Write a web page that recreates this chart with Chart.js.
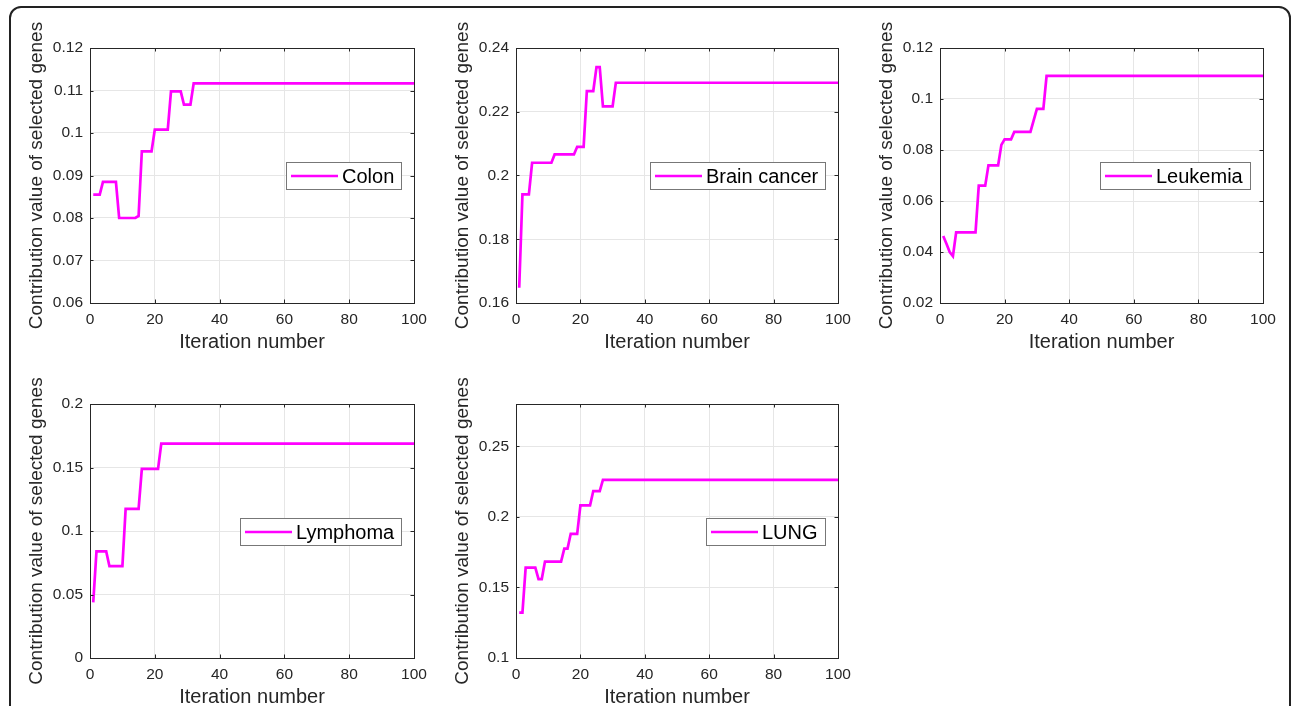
<!DOCTYPE html>
<html>
<head>
<meta charset="utf-8">
<script src="https://cdn.jsdelivr.net/npm/chart.js@4.4.1/dist/chart.umd.min.js"></script>
<style>
    html, body { margin: 0; padding: 0; background: #fff; width: 1295px; height: 706px; overflow: hidden; }
    #frame { position: absolute; left: 9px; top: 6px; width: 1282px; height: 780px; border: 2px solid #222; border-radius: 12px; box-sizing: border-box; }
    canvas { position: absolute; }
</style>
</head>
<body>
<div id="frame"></div>
<canvas id="chart-colon" width="424" height="350" style="left:10px;top:8px"></canvas>
<canvas id="chart-brain" width="422" height="350" style="left:436px;top:8px"></canvas>
<canvas id="chart-leukemia" width="423" height="350" style="left:860px;top:8px"></canvas>
<canvas id="chart-lymphoma" width="424" height="349" style="left:10px;top:364px"></canvas>
<canvas id="chart-lung" width="422" height="349" style="left:436px;top:364px"></canvas>
<script>
const xTicks = [0, 20, 40, 60, 80, 100]

// Colon
const colonIter = [1, 3, 4, 8, 9, 14, 15, 16, 19, 20, 24, 25, 28, 29, 31, 32, 100]
const colonValue = [0.0855, 0.0855, 0.0885, 0.0885, 0.080, 0.080, 0.0805, 0.0957, 0.0957, 0.1008, 0.1008, 0.1098, 0.1098, 0.1067, 0.1067, 0.1117, 0.1117]
const colonTicks = [0.06, 0.07, 0.08, 0.09, 0.1, 0.11, 0.12]
const colonRange = [0.06, 0.12]

// Brain cancer
const brainIter = [1, 2, 4, 5, 11, 12, 18, 19, 21, 22, 24, 25, 26, 27, 30, 31, 100]
const brainValue = [0.1648, 0.1941, 0.1941, 0.204, 0.204, 0.2066, 0.2066, 0.209, 0.209, 0.2265, 0.2265, 0.234, 0.234, 0.2217, 0.2217, 0.2291, 0.2291]
const brainTicks = [0.16, 0.18, 0.2, 0.22, 0.24]
const brainRange = [0.16, 0.24]

// Leukemia
const leukemiaIter = [1, 2, 3, 4, 5, 11, 12, 14, 15, 18, 19, 20, 22, 23, 28, 30, 32, 33, 100]
const leukemiaValue = [0.0463, 0.0432, 0.0400, 0.0384, 0.0477, 0.0477, 0.066, 0.066, 0.074, 0.074, 0.082, 0.0842, 0.0842, 0.0871, 0.0871, 0.0961, 0.0961, 0.1091, 0.1091]
const leukemiaTicks = [0.02, 0.04, 0.06, 0.08, 0.1, 0.12]
const leukemiaRange = [0.02, 0.12]

// Lymphoma
const lymphomaIter = [1, 2, 5, 6, 10, 11, 15, 16, 21, 22, 100]
const lymphomaValue = [0.0438, 0.0839, 0.0839, 0.0723, 0.0723, 0.1174, 0.1174, 0.1489, 0.1489, 0.1688, 0.1688]
const lymphomaTicks = [0, 0.05, 0.1, 0.15, 0.2]
const lymphomaRange = [0, 0.2]

// LUNG
const lungIter = [1, 2, 3, 6, 7, 8, 9, 14, 15, 16, 17, 19, 20, 23, 24, 26, 27, 100]
const lungValue = [0.1322, 0.1322, 0.1641, 0.1641, 0.1559, 0.1559, 0.1683, 0.1683, 0.1775, 0.1775, 0.188, 0.188, 0.2082, 0.2082, 0.2183, 0.2183, 0.2263, 0.2263]
const lungTicks = [0.1, 0.15, 0.2, 0.25]
const lungRange = [0.1, 0.28]

const panels = [
    { id: "chart-colon", label: "Colon", iter: colonIter, value: colonValue, ticks: colonTicks, range: colonRange },
    { id: "chart-brain", label: "Brain cancer", iter: brainIter, value: brainValue, ticks: brainTicks, range: brainRange },
    { id: "chart-leukemia", label: "Leukemia", iter: leukemiaIter, value: leukemiaValue, ticks: leukemiaTicks, range: leukemiaRange },
    { id: "chart-lymphoma", label: "Lymphoma", iter: lymphomaIter, value: lymphomaValue, ticks: lymphomaTicks, range: lymphomaRange },
    { id: "chart-lung", label: "LUNG", iter: lungIter, value: lungValue, ticks: lungTicks, range: lungRange }
]

const FONT = "'Liberation Sans', Arial, sans-serif"
const LINE_COLOR = "#ff00ff"
const AXIS_COLOR = "#262626"
const Y_TITLE = "Contribution value of selected genes"

// matlab style: full box, inward ticks, y title, legend box at "east"
const matlabBox = {
    id: "matlabBox",
    afterDraw(chart, args, opts) {
        const { ctx, chartArea: ca, scales } = chart
        ctx.save()
        ctx.strokeStyle = AXIS_COLOR
        ctx.lineWidth = 1
        ctx.strokeRect(Math.round(ca.left) + 0.5, Math.round(ca.top) + 0.5, Math.round(ca.right - ca.left), Math.round(ca.bottom - ca.top))

        const len = 3.5
        ctx.beginPath()
        scales.x.ticks.forEach((t) => {
            const px = Math.round(scales.x.getPixelForValue(t.value)) + 0.5
            ctx.moveTo(px, ca.bottom); ctx.lineTo(px, ca.bottom - len)
            ctx.moveTo(px, ca.top); ctx.lineTo(px, ca.top + len)
        })
        scales.y.ticks.forEach((t) => {
            const py = Math.round(scales.y.getPixelForValue(t.value)) + 0.5
            ctx.moveTo(ca.left, py); ctx.lineTo(ca.left + len, py)
            ctx.moveTo(ca.right, py); ctx.lineTo(ca.right - len, py)
        })
        ctx.stroke()

        // y title (drawn here so it is not squeezed to the axis height)
        ctx.save()
        ctx.translate(27, (ca.top + ca.bottom) / 2)
        ctx.rotate(-Math.PI / 2)
        ctx.font = "19px " + FONT
        ctx.fillStyle = AXIS_COLOR
        ctx.textAlign = "center"
        ctx.textBaseline = "middle"
        ctx.fillText(Y_TITLE, 0, 0)
        ctx.restore()

        // legend
        ctx.font = "20px " + FONT
        const tw = ctx.measureText(opts.label).width
        const w = 5 + 47 + 4 + tw + 7
        const h = 27
        const right = Math.round(ca.right - 13)
        const left = Math.round(right - w)
        const top = Math.round((ca.top + ca.bottom) / 2 - h / 2)
        ctx.fillStyle = "#fff"
        ctx.fillRect(left, top, right - left, h)
        ctx.strokeStyle = "#777"
        ctx.strokeRect(left + 0.5, top + 0.5, right - left, h)
        const cy = top + h / 2 + 0.5
        ctx.strokeStyle = LINE_COLOR
        ctx.lineWidth = 2.5
        ctx.beginPath()
        ctx.moveTo(left + 5, cy); ctx.lineTo(left + 52, cy)
        ctx.stroke()
        ctx.fillStyle = "#000"
        ctx.textBaseline = "middle"
        ctx.textAlign = "left"
        ctx.fillText(opts.label, left + 56, cy + 1)
        ctx.restore()
    }
}

const makeChart = (panel) => {
    new Chart(document.getElementById(panel.id), {
        type: "line",
        data: {
            datasets: [{
                label: panel.label,
                data: panel.iter.map((it, i) => ({ x: it, y: panel.value[i] })),
                borderColor: LINE_COLOR,
                borderWidth: 2.7,
                pointRadius: 0,
                tension: 0,
                fill: false
            }]
        },
        options: {
            responsive: false,
            animation: false,
            layout: { padding: { top: 40, right: 20, left: 0, bottom: 0 } },
            plugins: {
                legend: { display: false },
                tooltip: { enabled: false },
                matlabBox: { label: panel.label }
            },
            scales: {
                x: {
                    type: "linear",
                    min: 0,
                    max: 100,
                    afterBuildTicks: (scale) => { scale.ticks = xTicks.map((v) => ({ value: v })) },
                    afterFit: (scale) => { scale.height = 55 },
                    grid: { color: "#e6e6e6", drawTicks: false },
                    border: { display: false },
                    ticks: { color: AXIS_COLOR, padding: 7, maxRotation: 0, font: { family: FONT, size: 15.5 } },
                    title: {
                        display: true,
                        text: "Iteration number",
                        color: AXIS_COLOR,
                        padding: { top: 0, bottom: 4 },
                        font: { family: FONT, size: 20 }
                    }
                },
                y: {
                    type: "linear",
                    min: panel.range[0],
                    max: panel.range[1],
                    afterBuildTicks: (scale) => { scale.ticks = panel.ticks.map((v) => ({ value: v })) },
                    afterFit: (scale) => { scale.width = 80 },
                    grid: { color: "#e6e6e6", drawTicks: false },
                    border: { display: false },
                    ticks: { color: AXIS_COLOR, padding: 7, callback: (v) => String(v), font: { family: FONT, size: 15.5 } },
                    title: { display: false }
                }
            }
        },
        plugins: [matlabBox]
    })
}

panels.forEach(makeChart)
</script>
</body>
</html>
